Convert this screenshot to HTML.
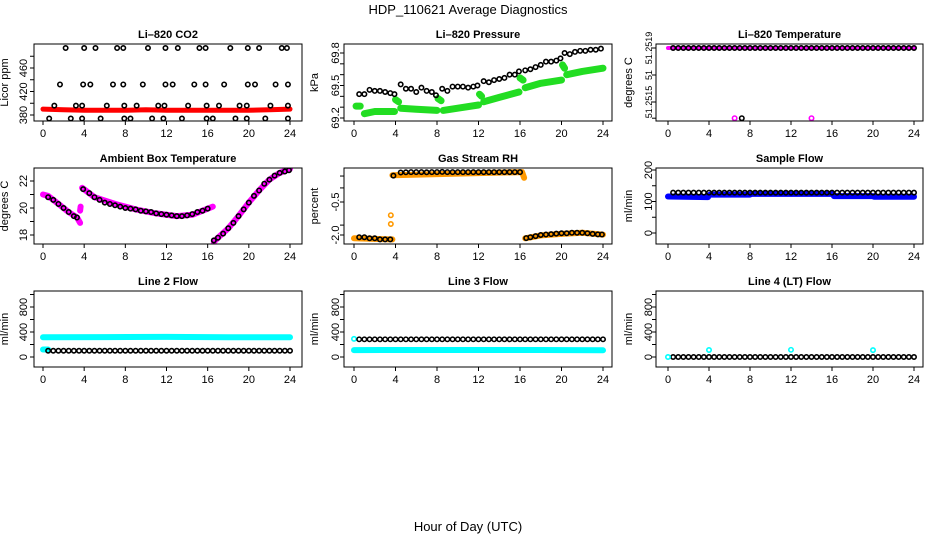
<!DOCTYPE html>
<html><head><meta charset="utf-8"><style>
html,body{margin:0;padding:0;background:#fff}
svg{display:block;font-family:"Liberation Sans",sans-serif}
</style></head><body>
<svg id="c" width="936" height="540" viewBox="0 0 936 540">
<text x="468" y="14" text-anchor="middle" font-size="13">HDP_110621  Average Diagnostics</text>
<text x="468" y="531" text-anchor="middle" font-size="13">Hour of Day (UTC)</text>
</svg>
<script>
// ---- data ----
const xTicks=[0,4,8,12,16,20,24];
const co2Levels=[494,432,396,374];
const co2Hours=[[2.2,4.0,5.1,7.2,7.8,10.2,11.9,13.1,15.2,15.8,18.2,19.9,21.0,23.2,23.7],
[1.65,3.9,4.6,6.8,7.8,9.7,11.9,12.6,14.7,15.8,17.6,19.9,20.6,22.6,23.8],
[1.1,3.2,3.8,6.2,7.9,9.1,11.2,11.8,14.1,15.9,17.1,19.1,19.8,22.1,23.8],
[0.6,2.7,3.8,5.6,7.9,8.5,10.6,11.7,13.5,15.9,16.5,18.7,19.8,21.6,23.8]];
const co2RedH=[0,2,4,6,8,10,12,14,16,18,20,22,24];
const co2RedV=[390,389,388,388,388,389,388,388,388,388,388,389,390];
const presH=[0.5,1,1.5,2,2.5,3,3.5,3.9,4.5,5,5.5,6,6.5,7,7.5,7.9,8.5,9,9.5,10,10.5,11,11.5,11.9,12.5,13,13.5,14,14.5,15,15.5,15.9,16.5,17,17.5,18,18.5,19,19.5,19.9,20.3,20.8,21.3,21.8,22.3,22.8,23.3,23.8];
const presV=[69.42,69.42,69.46,69.45,69.45,69.44,69.43,69.42,69.51,69.47,69.47,69.44,69.48,69.45,69.44,69.41,69.47,69.45,69.49,69.49,69.49,69.48,69.49,69.50,69.54,69.53,69.55,69.56,69.57,69.60,69.60,69.63,69.64,69.65,69.67,69.69,69.72,69.72,69.73,69.75,69.80,69.79,69.81,69.82,69.82,69.83,69.83,69.84];
const presGreenH=[0.2,0.6,null,1.0,2,3,3.9,null,4.0,4.3,null,4.5,6,8.0,null,8.1,8.4,null,8.6,10,12,null,12.1,12.3,null,12.5,14,15.9,null,16,16.3,null,16.5,18,20,null,20.1,20.3,null,20.5,22,24];
const presGreenV=[69.31,69.31,null,69.24,69.26,69.26,69.26,null,69.37,69.35,null,69.29,69.28,69.27,null,69.38,69.36,null,69.27,69.29,69.32,null,69.42,69.40,null,69.35,69.39,69.44,null,69.57,69.55,null,69.48,69.52,69.55,null,69.69,69.66,null,69.60,69.63,69.66];
const halfHours=[0.5,1,1.5,2,2.5,3,3.5,4,4.5,5,5.5,6,6.5,7,7.5,8,8.5,9,9.5,10,10.5,11,11.5,12,12.5,13,13.5,14,14.5,15,15.5,16,16.5,17,17.5,18,18.5,19,19.5,20,20.5,21,21.5,22,22.5,23,23.5,24];
const ltTopV=51.2519;
const ltMagH=[0,24]; const ltMagV=[51.2519,51.2519];
const ltOutH=[6.5,7.2,14]; const ltOutV=[51.25138,51.25138,51.25138]; const ltOutC=['#ff00ff','#000','#ff00ff'];
const ambH=[0.5,1,1.5,2,2.5,3,3.3,3.9,4.5,5,5.5,6,6.5,7,7.5,8,8.5,9,9.5,10,10.5,11,11.5,12,12.5,13,13.5,14,14.5,15,15.5,16,16.6,17,17.5,18,18.5,19,19.5,20,20.5,21,21.5,22,22.5,23,23.5,23.9];
const ambV=[20.8,20.6,20.3,20.0,19.7,19.4,19.3,21.4,21.1,20.8,20.6,20.4,20.3,20.2,20.1,20.0,19.95,19.9,19.8,19.75,19.7,19.6,19.55,19.5,19.45,19.4,19.4,19.45,19.55,19.7,19.8,19.95,17.6,17.8,18.1,18.5,18.9,19.4,19.9,20.4,20.9,21.3,21.8,22.1,22.4,22.6,22.7,22.8];
const ambMagH=[0,0.5,1.5,2.5,3.3,3.6,null,3.6,3.65,null,3.8,5,7,9,11,13,14.5,16,16.5,null,16.6,17,18,19,20,21,22,23,24];
const ambMagV=[21.0,20.9,20.3,19.7,19.3,18.9,null,19.8,20.1,null,21.5,20.8,20.3,19.9,19.6,19.4,19.5,19.95,20.1,null,17.5,17.8,18.5,19.4,20.4,21.3,22.1,22.6,22.9];
const rhH=[0.5,1,1.5,2,2.5,3,3.5,3.8,4.5,5,5.5,6,6.5,7,7.5,8,8.5,9,9.5,10,10.5,11,11.5,12,12.5,13,13.5,14,14.5,15,15.5,16,16.6,17,17.5,18,18.5,19,19.5,20,20.5,21,21.5,22,22.5,23,23.5,23.9];
const rhV=[-2.1,-2.1,-2.15,-2.15,-2.2,-2.2,-2.2,0.7,0.84,0.85,0.86,0.86,0.86,0.85,0.86,0.86,0.87,0.86,0.86,0.86,0.86,0.86,0.86,0.86,0.86,0.86,0.86,0.86,0.86,0.86,0.86,0.86,-2.14,-2.1,-2.05,-2.0,-1.98,-1.96,-1.94,-1.92,-1.92,-1.9,-1.9,-1.9,-1.92,-1.95,-1.97,-1.98];
const rhOrH=[0,3.7,null,3.7,16.2,16.4,null,16.5,18,20,22,24];
const rhOrV=[-2.15,-2.2,null,0.72,0.86,0.6,null,-2.15,-2.02,-1.95,-1.9,-1.98];
const rhOutH=[3.55,3.55]; const rhOutV=[-1.1,-1.5];
const sfBlueH=[0,3.9,null,4.1,8,null,8.1,12,null,12.1,16,null,16.2,20,null,20.1,24];
const sfBlueV=[116,114,null,122,122,null,124,124,null,124,124,null,117,117,null,115,115];
const sfBlackV=128;
const l2CyanH=[0,6,12,18,24]; const l2CyanV=[315,318,322,316,315];
const l2LowH=[0,0.5]; const l2LowV=[120,120];
const l2BlackV=100;
const l3CyanH=[0,6,12,18,24]; const l3CyanV=[110,112,112,112,108];
const l3BlackV=283; const l3FirstV=290;
const l4BlackV=0; const l4OutH=[0,4,12,20]; const l4OutV=[0,112,115,110];

// ---- drawing ----
const svg=document.getElementById('c');
const NS='http://www.w3.org/2000/svg';
function mk(tag,attrs,parent){const e=document.createElementNS(NS,tag);for(const k in attrs)e.setAttribute(k,attrs[k]);(parent||svg).appendChild(e);return e;}
const cols=[[34,302,43,290,8,23],[344,612,354,603,318,335],[656,923,668,914,632,648]];
const rows=[[44,121],[168,244],[291,367]];
function panel(c,r,name,title,ytitle,yv1,yp1,yv2,yp2,ticks,labels,lfs){
  const [L,R,x0,x24,ytx,ylx]=cols[c],[T,B]=rows[r];
  const g=mk('g',{});
  
  
  const sx=h=>x0+(x24-x0)*h/24;
  const sy=v=>yp1+(v-yv1)*(yp2-yp1)/(yv2-yv1);
  const t=mk('text',{x:(L+R)/2,y:T-6,'text-anchor':'middle','font-size':11,'font-weight':'bold'},g);t.textContent=title;
  
  const yt=mk('text',{x:ytx,y:(T+B)/2,'text-anchor':'middle','font-size':11,transform:`rotate(-90 ${ytx} ${(T+B)/2})`},g);yt.textContent=ytitle;
  
  const clip=mk('clipPath',{id:'cl'+name},g);mk('rect',{x:L,y:T,width:R-L,height:B-T},clip);
  const pg=mk('g',{'clip-path':`url(#cl${name})`},g);
  const box=mk('rect',{x:L,y:T,width:R-L,height:B-T,fill:'none',stroke:'#000','stroke-width':1},g);
  
  const ax=mk('g',{},g);
  mk('line',{x1:sx(0),x2:sx(24),y1:B,y2:B,stroke:'#000'},ax);
  xTicks.forEach(h=>{mk('line',{x1:sx(h),x2:sx(h),y1:B,y2:B+4,stroke:'#000'},ax);
    const tl=mk('text',{x:sx(h),y:B+16,'text-anchor':'middle','font-size':11},ax);tl.textContent=h;});
  const ay=mk('g',{},g);
  ticks.forEach((v,i)=>{const y=sy(v);mk('line',{x1:L-4,x2:L,y1:y,y2:y,stroke:'#000'},ay);
    if(labels[i]!==''){const tl=mk('text',{x:ylx+4,y:y,'text-anchor':'middle','font-size':lfs||11,transform:`rotate(-90 ${ylx+4} ${y})`},ay);tl.textContent=labels[i];}});
  return {sx,sy,g:pg,name};
}
function band(p,H,V,color,w,nm){
  let segs=[],cur=[];
  H.forEach((h,i)=>{if(h===null){if(cur.length)segs.push(cur);cur=[];}else cur.push(p.sx(h).toFixed(1)+','+p.sy(V[i]).toFixed(1));});
  if(cur.length)segs.push(cur);
  segs.forEach(s=>{if(s.length===1)s.push(s[0]);
    const e=mk('polyline',{points:s.join(' '),fill:'none',stroke:color,'stroke-width':w,'stroke-linecap':'round','stroke-linejoin':'round'},p.g);
    });
}
function pts(p,H,V,color,nm,r){
  H.forEach((h,i)=>{const v=Array.isArray(V)?V[i]:V;
    const e=mk('circle',{cx:p.sx(h),cy:p.sy(v),r:r||2.2,fill:'none',stroke:Array.isArray(color)?color[i]:color,'stroke-width':1.6},p.g);
    });
}

// Li-820 CO2
let p=panel(0,0,'co2','Li\u2013820 CO2','Licor ppm',380,115,460,68,[380,400,420,440,460,480],['380','','420','','460','']);
band(p,co2RedH,co2RedV,'#ff0000',5,'red-series');
co2Hours.forEach((hs,i)=>pts(p,hs,hs.map(()=>co2Levels[i]),'#000','point'));
// Pressure
p=panel(1,0,'pressure','Li\u2013820 Pressure','kPa',69.2,118,69.8,53,[69.2,69.3,69.4,69.5,69.6,69.7,69.8],['69.2','','','69.5','','','69.8']);
band(p,presGreenH,presGreenV,'#22dd22',7,'green-series');
pts(p,presH,presV,'#000','point');
// Li temp
p=panel(2,0,'li-temp','Li\u2013820 Temperature','degrees C',51.2519,48,51.2515,102,[51.2519,51.2517,51.2515,51.25138],['51.2519','51','51.2515',''],9);
band(p,ltMagH,ltMagV,'#ff00ff',4,'magenta-series');
pts(p,halfHours,ltTopV,'#000','point');
pts(p,ltOutH,ltOutV,ltOutC,'outlier');
// Ambient
p=panel(0,1,'ambient','Ambient Box Temperature','degrees C',18,235,22,181,[18,19,20,21,22],['18','','20','','22']);
band(p,ambMagH,ambMagV,'#ff00ff',6,'magenta-series');
pts(p,ambH,ambV,'#000','point');
// RH
p=panel(1,1,'rh','Gas Stream RH','percent',-2.0,235,-0.5,202,[0.68,0.14,-0.5,-1.55,-2.0],['','','-0.5','','-2.0']);
band(p,rhOrH,rhOrV,'#ff9900',6,'orange-series');
pts(p,rhOutH,rhOutV,'#ff9900','outlier');
pts(p,rhH,rhV,'#000','point');
// Sample flow
p=panel(2,1,'sample-flow','Sample Flow','ml/min',0,233,200,170,[0,50,100,150,200],['0','','100','','200']);
band(p,sfBlueH,sfBlueV,'#0000ff',6,'blue-series');
pts(p,halfHours,sfBlackV,'#000','point');
// Line 2
p=panel(0,2,'line2','Line 2 Flow','ml/min',0,357,400,332,[0,200,400,600,800,1000],['0','','400','','800','']);
band(p,l2CyanH,l2CyanV,'#00ffff',6,'cyan-series');
band(p,l2LowH,l2LowV,'#00ffff',6,'cyan-low');
pts(p,halfHours,l2BlackV,'#000','point');
// Line 3
p=panel(1,2,'line3','Line 3 Flow','ml/min',0,357,400,332,[0,200,400,600,800,1000],['0','','400','','800','']);
band(p,l3CyanH,l3CyanV,'#00ffff',6,'cyan-series');
pts(p,[0],[l3FirstV],'#00ffff','cyan-first');
pts(p,halfHours,l3BlackV,'#000','point');
// Line 4
p=panel(2,2,'line4','Line 4 (LT) Flow','ml/min',0,357,400,332,[0,200,400,600,800,1000],['0','','400','','800','']);
pts(p,halfHours,l4BlackV,'#000','point');
pts(p,l4OutH,l4OutV,'#00ffff','cyan-point');
</script>
</body></html>
